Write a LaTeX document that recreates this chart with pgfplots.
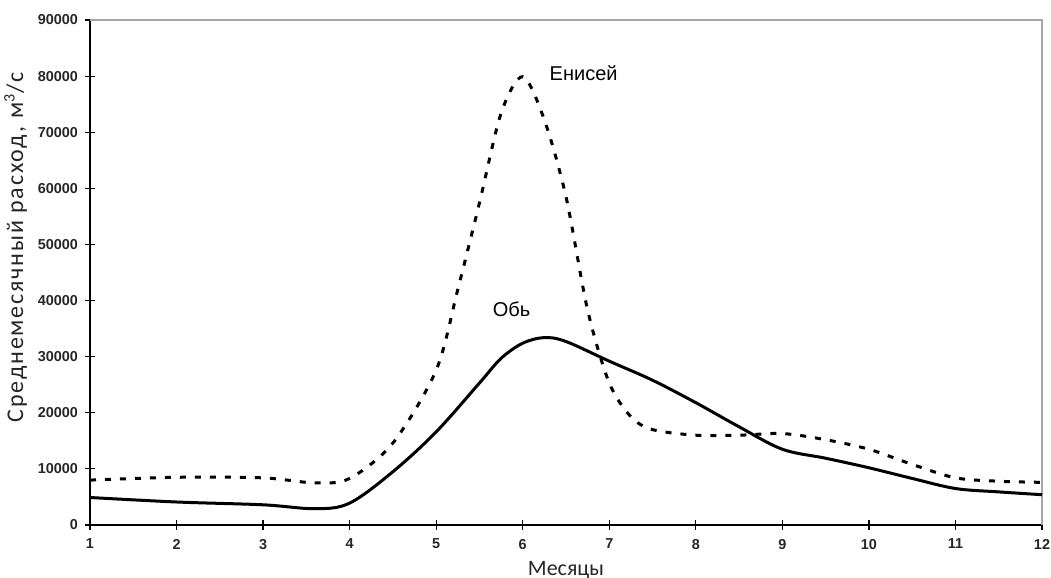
\documentclass[border=0pt]{standalone}
\usepackage{fontspec}
\setmainfont{Liberation Sans}
\newfontfamily\calibri{Carlito}
\newfontfamily\calibrisp{Carlito}[LetterSpace=7.5]
\usepackage{pgfplots}
\pgfplotsset{compat=1.18}

\begin{document}
\begin{tikzpicture}
\useasboundingbox (-45pt,-26.5pt) rectangle (480.5pt,262.5pt);
\begin{axis}[scale only axis,width=476pt,height=252.5pt,
 xmin=1,xmax=12,ymin=0,ymax=90000,
 xtick={1,...,12},ytick={0,10000,...,90000},
 axis x line*=bottom,axis y line*=left,axis line style={-,black,line width=0.8pt},
 tick align=center,major tick length=5pt,tick style={black,line width=0.6pt},
 scaled y ticks=false,
 /pgf/number format/assume math mode=true,
 /pgf/number format/set thousands separator={},
 tick label style={font=\fontsize{7.2}{8}\selectfont\bfseries,text=black!85},
 xticklabel style={yshift=-1pt},
 xlabel={Месяцы},ylabel={Среднемесячный расход, м\textsuperscript{3}/с},
 xlabel style={font=\calibri\fontsize{11}{12}\selectfont,text=black!85,yshift=1pt},
 ylabel style={font=\calibrisp\fontsize{12}{13}\selectfont,text=black!85,
   at={(ticklabel cs:0.55)},yshift=-1.5pt},
 clip=false]
\draw[gray!70,line width=0.6pt] (rel axis cs:0,1) -- (rel axis cs:1,1) -- (rel axis cs:1,0);
% Обь
\addplot[black,line width=1.5pt,smooth,tension=0.55] coordinates {
 (1,4900) (2,4100) (3,3600) (3.6,2900) (4,3900) (4.5,9500) (5,16600) (5.5,25300)
 (5.75,29700) (6,32400) (6.25,33400) (6.5,32700) (7,29200) (7.5,25800) (8,21800)
 (8.5,17500) (9,13500) (9.5,11900) (10,10200) (10.5,8300) (11,6500) (11.5,5900) (12,5400)};
% Енисей
\addplot[black,line width=1.5pt,smooth,tension=0.5,dash pattern=on 3pt off 4.5pt] coordinates {
 (1,8000) (2,8500) (3,8400) (3.6,7500) (4,8300) (4.5,14600) (5,27600) (5.25,42000)
 (5.5,57400) (5.75,73400) (6,79900) (6.25,72200) (6.5,58500) (6.75,38300)
 (7,25300) (7.25,19300) (7.5,17000) (8,16000) (8.5,16000) (9,16300) (9.5,15200)
 (10,13500) (10.5,10800) (11,8400) (11.5,7800) (12,7600)};
\node[font=\fontsize{10}{11}\selectfont,anchor=west] at (axis cs:6.23,80500) {Енисей};
\node[font=\fontsize{10}{11}\selectfont] at (axis cs:5.87,38500) {Обь};
\end{axis}
\end{tikzpicture}
\end{document}
